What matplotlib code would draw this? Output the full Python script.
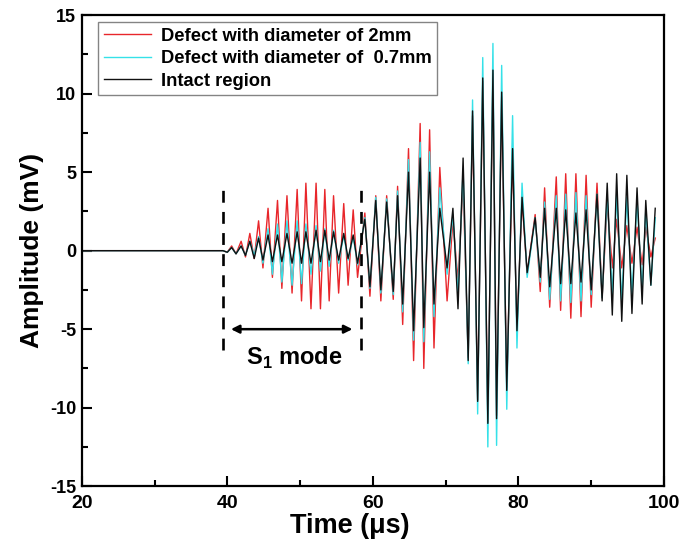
import numpy as np
import matplotlib
matplotlib.use("Agg")
import matplotlib.pyplot as plt
from matplotlib.ticker import MultipleLocator

plt.rcParams['font.family'] = ['Liberation Sans', 'DejaVu Sans']
plt.rcParams['mathtext.fontset'] = 'custom'
plt.rcParams['mathtext.bf'] = 'Liberation Sans:bold'
plt.rcParams['mathtext.rm'] = 'Liberation Sans:bold'
plt.rcParams['axes.unicode_minus'] = False

# times of the extremes (us)
time = [20.0, 39.4, 40.0, 40.6, 41.2, 41.9, 42.5, 43.1, 43.7, 44.3, 44.9,
        45.6, 46.2, 46.9, 47.5, 48.2, 48.9, 49.6, 50.2, 50.8, 51.5, 52.2,
        52.8, 53.4, 54.0, 54.6, 55.3, 56.0, 56.6, 57.3, 57.9, 58.9, 59.6,
        60.4, 61.1, 61.9, 62.8, 63.4, 64.1, 64.9, 65.6, 66.5, 67.0, 67.8,
        68.4, 69.2, 70.2, 71.0, 71.7, 72.4, 73.1, 73.7, 74.4, 75.1, 75.8,
        76.5, 77.0, 77.7, 78.4, 79.2, 79.8, 80.5, 81.2, 82.3, 83.0, 83.6,
        84.3, 85.2, 85.8, 86.5, 87.2, 87.9, 88.6, 89.3, 90.0, 90.8, 91.5,
        92.2, 92.9, 93.5, 94.2, 94.9, 95.6, 96.3, 97.0, 97.5, 98.2, 98.8]

# amplitudes (mV)
intact = [0, 0, -0.1, 0.2, -0.2, 0.3, -0.3, 0.6, -0.5, 0.8, -0.6,
          1.0, -0.7, 1.0, -0.7, 1.1, -0.8, 1.2, -0.8, 1.2, -0.8, 1.3,
          -0.7, 1.3, -0.6, 1.2, -0.6, 1.1, -0.5, 1.0, -0.8, 2.0, -2.3,
          3.2, -2.5, 3.1, -2.6, 3.5, -3.4, 5.0, -5.1, 5.9, -4.9, 5.0,
          -3.4, 2.7, -1.1, 2.7, -3.7, 5.9, -7.0, 8.9, -9.6, 11.0, -11.0,
          11.5, -10.7, 10.1, -8.9, 6.5, -5.1, 3.4, -1.4, 2.1, -1.7, 2.7,
          -2.3, 2.7, -2.1, 2.6, -2.1, 2.4, -2.0, 2.6, -2.5, 3.6, -3.2,
          4.3, -4.1, 4.9, -4.5, 4.8, -4.0, 4.0, -3.4, 3.2, -2.2, 2.7]

defect_07 = [0, 0, -0.1, 0.2, -0.2, 0.3, -0.3, 0.6, -0.3, 0.9, -0.8,
             1.4, -1.5, 1.7, -2.0, 1.9, -2.2, 1.9, -2.1, 1.7, -1.5, 1.6,
             -1.3, 1.4, -1.0, 1.3, -0.8, 1.0, -0.6, 0.9, -0.9, 2.1, -2.4,
             3.4, -2.7, 3.3, -2.8, 3.8, -3.9, 5.8, -5.7, 6.9, -5.8, 6.3,
             -4.2, 4.0, -1.5, 2.3, -2.8, 5.2, -7.2, 9.6, -10.4, 12.3, -12.5,
             13.2, -12.4, 11.8, -10.1, 8.6, -6.2, 4.3, -1.7, 2.1, -2.0, 3.1,
             -3.1, 3.5, -3.2, 3.6, -3.3, 3.7, -3.2, 3.5, -2.8, 3.6, -3.0,
             3.5, -2.8, 3.6, -3.2, 3.4, -2.8, 3.2, -2.5, 2.6, -2.2, 2.1]

defect_2 = [0, 0, -0.1, 0.3, -0.2, 0.6, -0.4, 1.1, -0.5, 1.9, -1.1,
            2.7, -1.7, 3.2, -2.4, 3.5, -2.7, 3.9, -3.2, 4.3, -3.7, 4.3,
            -3.7, 3.9, -3.2, 3.5, -2.7, 3.0, -2.2, 2.6, -1.7, 2.4, -2.9,
            3.5, -3.2, 3.5, -3.1, 4.1, -4.7, 6.5, -7.0, 8.1, -7.5, 7.7,
            -6.2, 5.3, -3.2, 1.9, -1.9, 4.3, -6.8, 8.6, -9.5, 10.8, -10.9,
            11.3, -10.5, 9.8, -8.7, 6.4, -5.0, 3.3, -1.5, 2.3, -2.6, 4.0,
            -3.6, 4.7, -3.8, 4.9, -4.3, 4.9, -4.2, 4.8, -3.6, 4.3, -3.0,
            3.0, -1.1, 2.0, -1.1, 1.6, -0.8, 1.5, -0.9, 1.5, -0.4, 0.8]

labels = ["Defect with diameter of 2mm",
          "Defect with diameter of  0.7mm",
          "Intact region"]
colors = ["#e8262b", "#35e1e8", "#111111"]

# S1 mode window
s1_start, s1_end = 39.4, 58.4

fig = plt.figure(figsize=(6.81, 5.42), dpi=100)
ax = fig.add_axes([0.120, 0.103, 0.855, 0.869])

for vals, lab, col in zip([defect_2, defect_07, intact], labels, colors):
    ax.plot(time, vals, color=col, lw=1.0, label=lab)

ax.vlines([s1_start, s1_end], -6.3, 4.0, colors="black", lw=1.9,
          linestyles=(0, (4.5, 3.5)))
ax.annotate("", xy=(40.5, -5.0), xytext=(57.2, -5.0),
            arrowprops=dict(arrowstyle="<|-|>", color="black", lw=1.8,
                            mutation_scale=12, shrinkA=0, shrinkB=0))
ax.text(49.2, -6.8, r"S$_1$ mode", ha="center", va="center",
        fontsize=17, fontweight="bold")

ax.set_xlim(20, 100)
ax.set_ylim(-15, 15)
ax.xaxis.set_major_locator(MultipleLocator(20))
ax.xaxis.set_minor_locator(MultipleLocator(10))
ax.yaxis.set_major_locator(MultipleLocator(5))
ax.yaxis.set_minor_locator(MultipleLocator(2.5))
ax.tick_params(which="both", direction="in", width=1.5, top=False, right=False)
ax.tick_params(which="major", length=7)
ax.tick_params(which="minor", length=4)
for sp in ax.spines.values():
    sp.set_linewidth(1.6)

for lbl in ax.get_xticklabels():
    lbl.set_fontweight("bold")
    lbl.set_fontsize(14)
for lbl in ax.get_yticklabels():
    lbl.set_fontweight("bold")
    lbl.set_fontsize(13)
ax.tick_params(axis="x", pad=6.5)
ax.tick_params(axis="y", pad=4)

ax.set_xlabel("Time (\u03bcs)", fontsize=19.5, fontweight="bold", labelpad=1)
ax.xaxis.set_label_coords(0.46, -0.058)
ax.set_ylabel("Amplitude (mV)", fontsize=19, fontweight="bold", labelpad=4)

leg = ax.legend(loc="upper left", bbox_to_anchor=(0.022, 0.993),
                prop={"weight": "bold", "size": 13.2}, frameon=True,
                fancybox=False, edgecolor="#666666", handlelength=2.6,
                borderpad=0.3, labelspacing=0.3, handletextpad=0.5,
                borderaxespad=0.2)
leg.get_frame().set_linewidth(1.0)

fig.savefig("out.png", dpi=100)
